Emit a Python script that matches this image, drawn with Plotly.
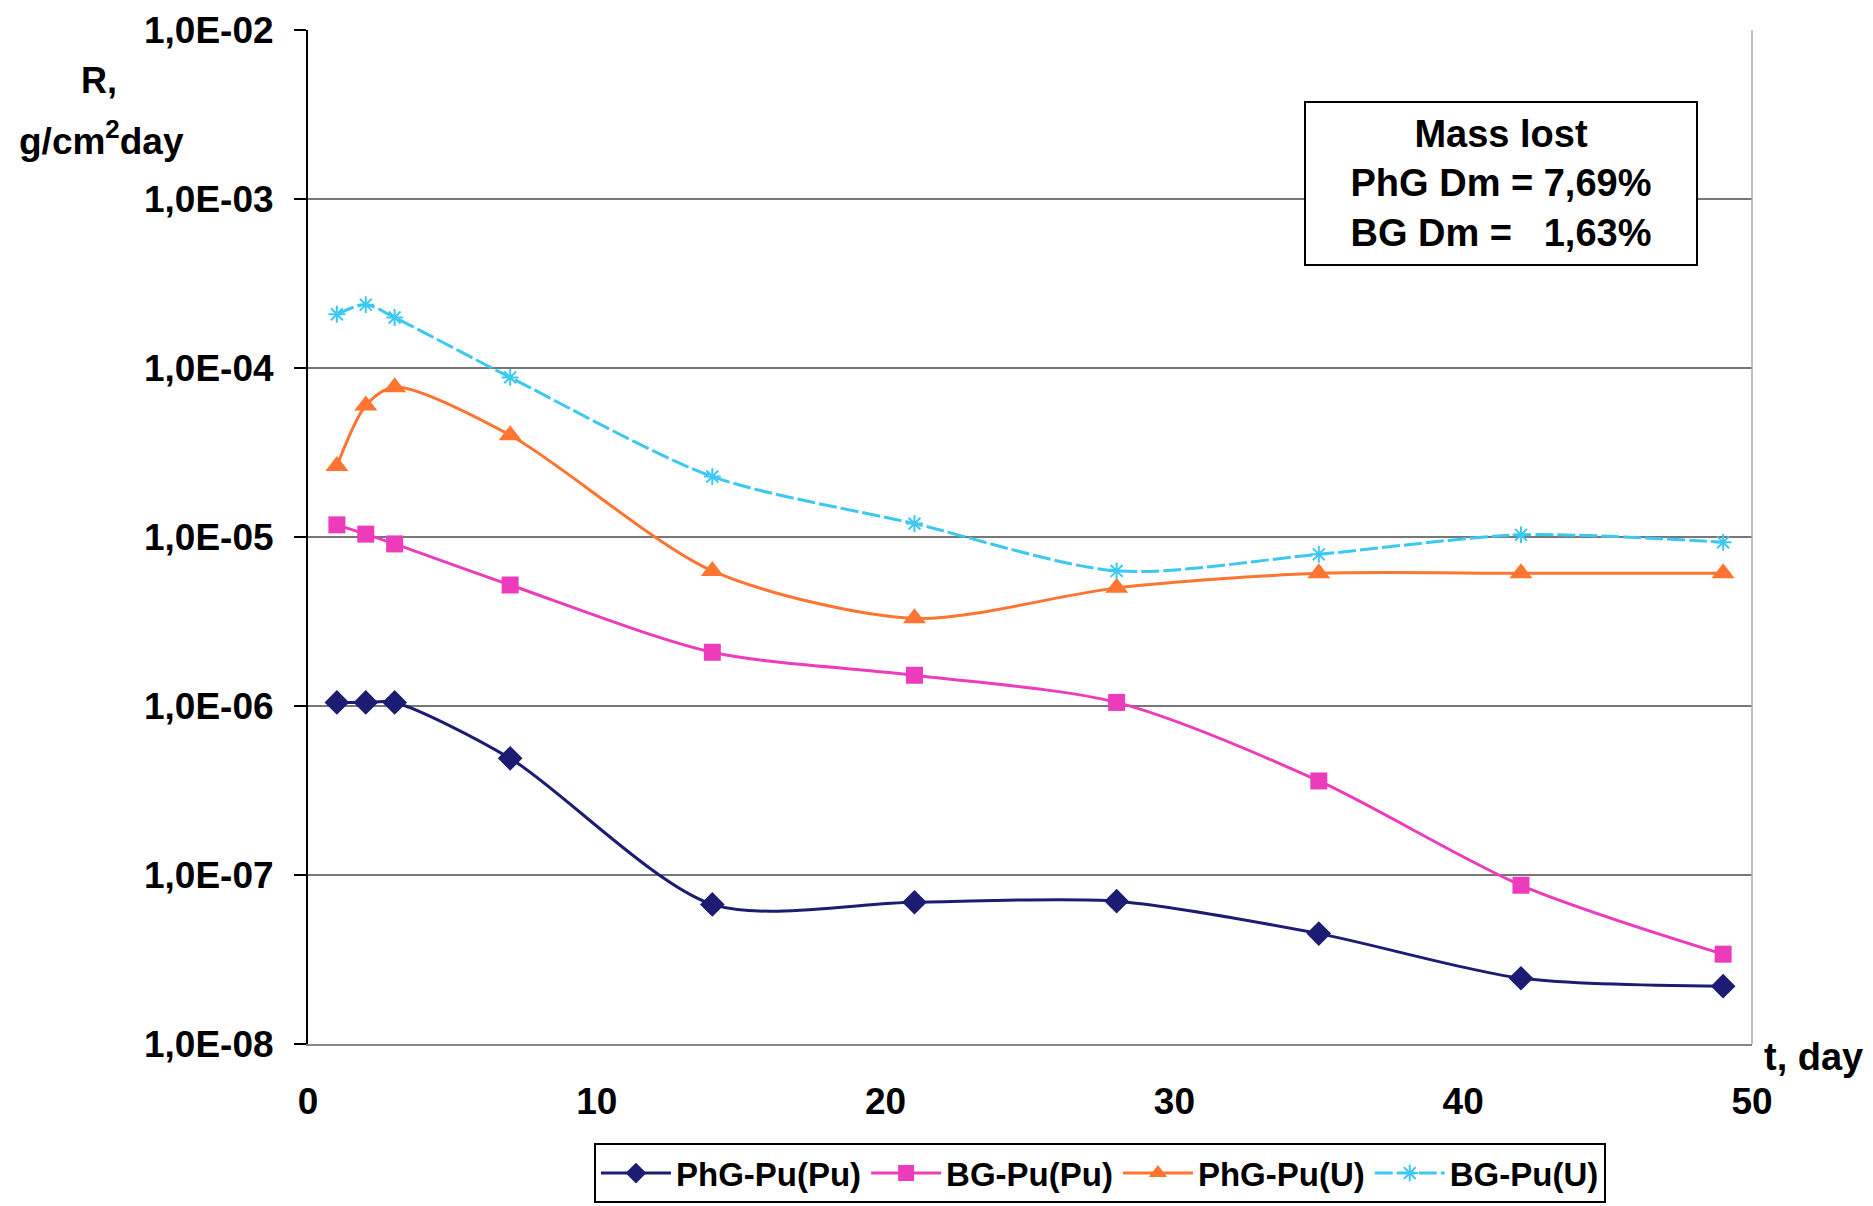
import plotly.graph_objects as go

t_days = [1, 2, 3, 7, 14, 21, 28, 35, 42, 49]
phg_pu_pu = [1.05e-6, 1.05e-6, 1.05e-6, 4.9e-7, 6.7e-8, 6.9e-8, 7.0e-8, 4.5e-8, 2.45e-8, 2.2e-8]
bg_pu_pu = [1.18e-5, 1.04e-5, 9.1e-6, 5.2e-6, 2.08e-6, 1.52e-6, 1.05e-6, 3.6e-7, 8.7e-8, 3.4e-8]
phg_pu_u = [2.63e-5, 6.0e-5, 7.7e-5, 4.0e-5, 6.3e-6, 3.3e-6, 5.0e-6, 6.1e-6, 6.1e-6, 6.1e-6]
bg_pu_u = [2.08e-4, 2.37e-4, 1.99e-4, 8.8e-5, 2.28e-5, 1.2e-5, 6.3e-6, 7.9e-6, 1.03e-5, 9.3e-6]

y_tickvals = [1e-8, 1e-7, 1e-6, 1e-5, 1e-4, 1e-3, 1e-2]
y_ticktext = ["1,0E-08", "1,0E-07", "1,0E-06", "1,0E-05", "1,0E-04", "1,0E-03", "1,0E-02"]
x_tickvals = [0, 10, 20, 30, 40, 50]

FONT = "Liberation Sans, Arial, sans-serif"

series = [
    ("PhG-Pu(Pu)", phg_pu_pu, "#1c1c72", "diamond", 19, None),
    ("BG-Pu(Pu)", bg_pu_pu, "#ec3cbc", "square", 17, None),
    ("PhG-Pu(U)", phg_pu_u, "#ff7430", "triangle-up", 20, None),
    ("BG-Pu(U)", bg_pu_u, "#3cc8f0", "asterisk-open", 14, "18px,4px"),
]

fig = go.Figure()
for name, vals, color, sym, size, dash in series:
    fig.add_trace(go.Scatter(
        x=t_days, y=vals, name=name, mode="lines+markers",
        line=dict(color=color, width=3, shape="spline", smoothing=0.8, dash=dash),
        marker=dict(symbol=sym, size=size, color=color,
                    line=dict(color=color, width=2 if sym.startswith("asterisk") else 0)),
    ))

fig.update_layout(
    width=1873, height=1206,
    margin=dict(l=300, r=129, t=22, b=170, autoexpand=False),
    paper_bgcolor="white", plot_bgcolor="white",
    font=dict(family=FONT, size=30, color="black", weight="bold"),
    showlegend=True,
    legend=dict(orientation="h", xref="container", yref="container",
                x=0.583, xanchor="center", y=0.009, yanchor="bottom",
                bordercolor="black", borderwidth=2, itemwidth=70,
                font=dict(size=33, family=FONT, weight="bold"),
                tracegroupgap=0),
    xaxis=dict(range=[0, 50], tickvals=x_tickvals, showgrid=False, zeroline=False,
               showline=True, linecolor="#888888", linewidth=1.5, mirror=False, automargin=False,
               ticks="", tickfont=dict(size=37, family=FONT, weight="bold"), ticklabelstandoff=24),
    yaxis=dict(type="log", range=[-8, -2], tickvals=y_tickvals, ticktext=y_ticktext,
               showgrid=True, gridcolor="#777777", gridwidth=1.5, zeroline=False, automargin=False,
               showline=True, linecolor="black", linewidth=2, ticks="outside", ticklen=12,
               tickcolor="black", tickwidth=1.5, ticklabelstandoff=13,
               tickfont=dict(size=37, family=FONT, weight="bold")),
)

# right frame line
fig.add_shape(type="line", xref="paper", yref="paper", x0=1, x1=1, y0=0, y1=1,
              line=dict(color="#aaaaaa", width=1.5))

fig.add_annotation(xref="paper", yref="paper", x=-0.1447, y=0.95, xanchor="center", yanchor="middle",
                   text="R,", showarrow=False, font=dict(size=36, family=FONT, weight="bold"))
fig.add_annotation(xref="paper", yref="paper", x=-0.143, y=0.893, xanchor="center", yanchor="middle",
                   text="g/cm<sup>2</sup>day", showarrow=False, font=dict(size=37, family=FONT, weight="bold"))
fig.add_annotation(xref="paper", yref="paper", x=1.0785, y=-0.0125, xanchor="right", yanchor="middle",
                   text="t, day", showarrow=False, font=dict(size=38, family=FONT, weight="bold"))

fig.add_annotation(xref="paper", yref="paper", x=0.8265, y=0.8487, xanchor="center", yanchor="middle",
                   text="Mass lost<br>PhG Dm = 7,69%<br>BG Dm =\u00a0\u00a0\u00a01,63%",
                   showarrow=False, align="center", bordercolor="black", borderwidth=2,
                   borderpad=10, bgcolor="white", width=370,
                   font=dict(size=38, family=FONT, weight="bold"))

fig.write_html("out.html")
